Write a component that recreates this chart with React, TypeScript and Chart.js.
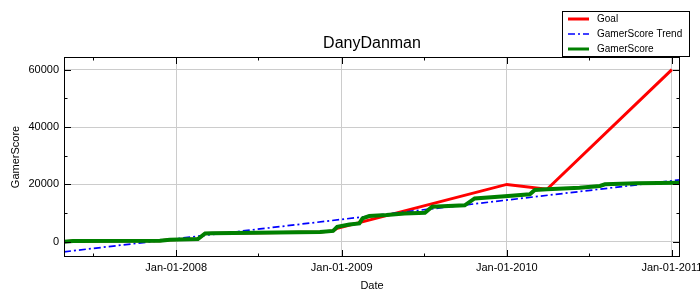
import React, { useEffect, useRef } from 'react';
import { Chart, registerables } from 'chart.js';

Chart.register(...registerables);

const FONT = '"Liberation Sans", Arial, sans-serif';

const chartTitle = 'DanyDanman';
const xAxisTitle = 'Date';
const yAxisTitle = 'GamerScore';

const xRange = ['2007-04-28', '2011-01-19'];
const yRange = [-5300, 64400];
const xTickDates = ['2008-01-01', '2009-01-01', '2010-01-01', '2011-01-01'];
const xTickLabels = ['Jan-01-2008', 'Jan-01-2009', 'Jan-01-2010', 'Jan-01-2011'];
const xMinorTickDates = ['2007-07-01', '2008-07-01', '2009-07-01', '2010-07-01'];
const yTickValues = [0, 20000, 40000, 60000];
const yMinorTickValues = [10000, 30000, 50000];

const seriesNames = ['Goal', 'GamerScore Trend', 'GamerScore'];

const goalDates = [
  '2007-04-28', '2007-05-18', '2007-11-26', '2007-12-18', '2008-02-18', '2008-03-05',
  '2008-11-14', '2008-12-13', '2008-12-22', '2010-01-01', '2010-03-31', '2011-01-01',
];
const goalValues = [0, 250, 350, 700, 950, 2900, 3450, 3800, 4700, 20000, 18300, 60000];

const trendDates = ['2007-04-28', '2011-01-19'];
const trendValues = [-3500, 21600];

const scoreDates = [
  '2007-04-28', '2007-05-18', '2007-11-26', '2007-12-18', '2008-02-18', '2008-03-05',
  '2008-03-20', '2008-11-14', '2008-12-13', '2008-12-22', '2009-01-18', '2009-02-09',
  '2009-02-16', '2009-03-03', '2009-04-10', '2009-05-20', '2009-07-04', '2009-07-20',
  '2009-09-30', '2009-10-22', '2010-01-04', '2010-02-21', '2010-03-04', '2010-03-31',
  '2010-06-11', '2010-07-26', '2010-08-06', '2010-10-16', '2011-01-19',
];
const scoreValues = [
  0, 250, 350, 700, 950, 2900,
  3000, 3450, 3800, 5200, 6000, 6420,
  8160, 8970, 9300, 9900, 10100, 12200,
  12700, 15100, 15950, 16540, 18040, 18290,
  18850, 19440, 20030, 20380, 20590,
];

const seriesColors = ['#ff0000', '#0000ff', '#008000'];
const seriesWidths = [3, 1.7, 4];
const trendDash = [7, 3, 2, 3];

const toMs = (s: string) => Date.parse(s + 'T00:00:00Z');
const pts = (dates: string[], vals: number[]) => dates.map((d, i) => ({ x: toMs(d), y: vals[i] }));

const decorPlugin = {
  id: 'decor',
  afterDatasetsDraw(chart: any) {
    const { ctx, chartArea, scales } = chart;
    const { left, right, top, bottom } = chartArea;
    const x = scales.x;
    const y = scales.y;
    ctx.save();
    ctx.strokeStyle = '#000';
    ctx.lineWidth = 1;
    ctx.strokeRect(left + 0.5, top + 0.5, right - left - 1, bottom - top - 1);
    const major = 7;
    const minor = 3.5;
    ctx.beginPath();
    const vTick = (px: number, len: number) => {
      const p = Math.round(px) + 0.5;
      ctx.moveTo(p, bottom);
      ctx.lineTo(p, bottom - len);
      ctx.moveTo(p, top);
      ctx.lineTo(p, top + len);
    };
    const hTick = (py: number, len: number) => {
      const p = Math.round(py) + 0.5;
      ctx.moveTo(left, p);
      ctx.lineTo(left + len, p);
      ctx.moveTo(right, p);
      ctx.lineTo(right - len, p);
    };
    xTickDates.forEach((d) => vTick(x.getPixelForValue(toMs(d)), major));
    xMinorTickDates.forEach((d) => vTick(x.getPixelForValue(toMs(d)), minor));
    yTickValues.forEach((v) => hTick(y.getPixelForValue(v), major));
    yMinorTickValues.forEach((v) => hTick(y.getPixelForValue(v), minor));
    ctx.stroke();
    ctx.restore();
  },
  afterDraw(chart: any) {
    const { ctx, chartArea, width } = chart;
    const { left, right, top, bottom } = chartArea;
    ctx.save();
    ctx.fillStyle = '#000';
    // title
    ctx.font = `16px ${FONT}`;
    ctx.textAlign = 'center';
    ctx.textBaseline = 'alphabetic';
    ctx.fillText(chartTitle, (left + right) / 2, 48);
    // x axis title
    ctx.font = `11px ${FONT}`;
    ctx.fillText(xAxisTitle, (left + right) / 2, 288.5);
    // y axis title
    ctx.save();
    ctx.translate(19, (top + bottom) / 2);
    ctx.rotate(-Math.PI / 2);
    ctx.fillText(yAxisTitle, 0, 0);
    ctx.restore();
    // legend
    const bw = 128;
    const bh = 46;
    const bx = width - 10 - bw;
    const by = 11;
    ctx.fillStyle = '#fff';
    ctx.fillRect(bx, by, bw, bh);
    ctx.strokeStyle = '#000';
    ctx.lineWidth = 1;
    ctx.strokeRect(bx + 0.5, by + 0.5, bw - 1, bh - 1);
    ctx.font = `10px ${FONT}`;
    ctx.textAlign = 'left';
    ctx.textBaseline = 'middle';
    seriesNames.forEach((name, i) => {
      const ry = by + 8 + i * 15;
      ctx.save();
      ctx.strokeStyle = seriesColors[i];
      ctx.lineWidth = i === 1 ? 1.7 : 3;
      ctx.setLineDash(i === 1 ? trendDash : []);
      ctx.beginPath();
      ctx.moveTo(bx + 6, ry);
      ctx.lineTo(bx + 27, ry);
      ctx.stroke();
      ctx.restore();
      ctx.fillStyle = '#000';
      ctx.fillText(name, bx + 35, ry + 0.5);
    });
    ctx.restore();
  },
};

export default function App() {
  const ref = useRef<HTMLCanvasElement | null>(null);
  useEffect(() => {
    document.body.style.margin = '0';
    if (!ref.current) return;
    const datasets = [
      { label: seriesNames[0], data: pts(goalDates, goalValues), order: 2 },
      { label: seriesNames[1], data: pts(trendDates, trendValues), order: 1, borderDash: trendDash },
      { label: seriesNames[2], data: pts(scoreDates, scoreValues), order: 0 },
    ].map((d, i) => ({
      ...d,
      borderColor: seriesColors[i],
      backgroundColor: seriesColors[i],
      borderWidth: seriesWidths[i],
      pointRadius: 0,
      tension: 0,
      fill: false,
    }));
    const chart = new Chart(ref.current, {
      type: 'line',
      data: { datasets },
      plugins: [decorPlugin],
      options: {
        animation: false,
        responsive: false,
        maintainAspectRatio: false,
        layout: { padding: { top: 57, right: 20, left: 0, bottom: 0 } },
        plugins: { legend: { display: false }, tooltip: { enabled: false }, title: { display: false } },
        scales: {
          x: {
            type: 'linear',
            min: toMs(xRange[0]),
            max: toMs(xRange[1]),
            afterBuildTicks: (scale: any) => {
              scale.ticks = xTickDates.map((d) => ({ value: toMs(d) }));
            },
            afterFit: (scale: any) => {
              scale.height = 43;
              scale.paddingLeft = 0;
              scale.paddingRight = 0;
            },
            grid: { color: '#cccccc', lineWidth: 1, drawTicks: false },
            border: { display: false },
            ticks: {
              autoSkip: false,
              maxRotation: 0,
              padding: 4,
              color: '#000',
              font: { family: FONT, size: 11 },
              callback: (v: any) => {
                const i = xTickDates.findIndex((d) => toMs(d) === v);
                return i >= 0 ? xTickLabels[i] : '';
              },
            },
          },
          y: {
            type: 'linear',
            min: yRange[0],
            max: yRange[1],
            afterBuildTicks: (scale: any) => {
              scale.ticks = yTickValues.map((v) => ({ value: v }));
            },
            afterFit: (scale: any) => {
              scale.width = 64;
              scale.paddingTop = 0;
              scale.paddingBottom = 0;
            },
            grid: { color: '#cccccc', lineWidth: 1, drawTicks: false },
            border: { display: false },
            ticks: {
              padding: 5,
              color: '#000',
              font: { family: FONT, size: 11 },
              callback: (v: any) => String(v),
            },
          },
        },
      } as any,
    });
    return () => chart.destroy();
  }, []);
  return (
    <div style={{ width: 700, height: 300, background: '#fff' }}>
      <canvas ref={ref} width={700} height={300} style={{ display: 'block' }} />
    </div>
  );
}
